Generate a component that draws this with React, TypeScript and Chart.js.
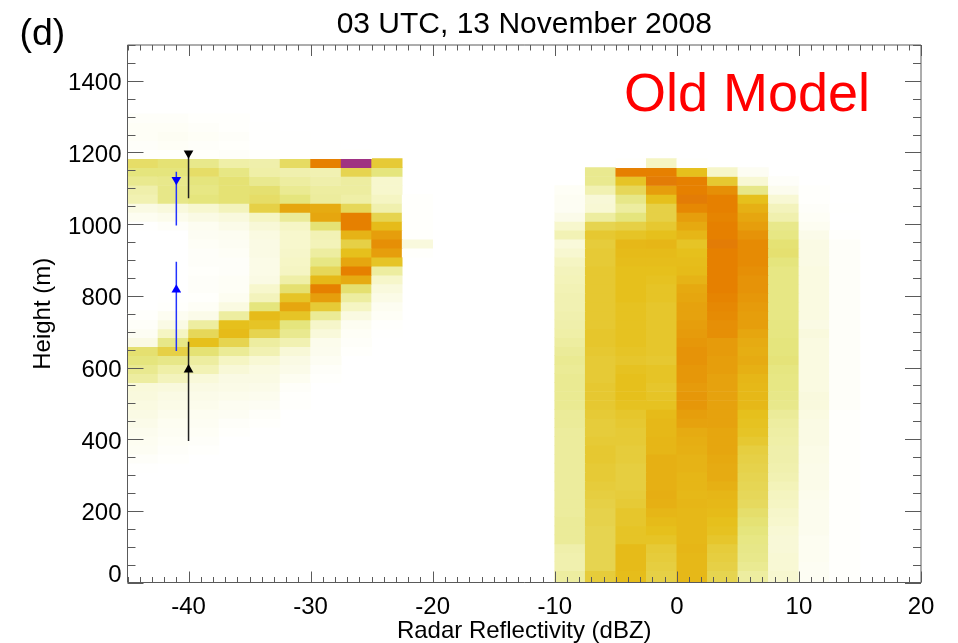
import React, { useEffect, useRef } from "react";
import { Chart, registerables } from "chart.js";

Chart.register(...registerables);

// Occurrence level of each reflectivity/height cell, bottom row first.
const LEFT_X_EDGES = [-45, -42.5, -40, -37.5, -35, -32.5, -30, -27.5, -25, -22.5];
const RIGHT_X_EDGES = [-10, -7.5, -5, -2.5, 0, 2.5, 5, 7.5, 10, 12.5];
const X_BIN = 2.5;
const ROW_BASE = -17;
const ROW_H = 25;

const leftFirstRow = 13;
const leftRows = [
  [.05],
  [.2, .1],
  [.4, .2, .1],
  [.5, .3, .2],
  [.6, .4, .3, .1],
  [.8, .5, .4, .2, .1],
  [1, .7, .5, .4, .2],
  [1.1, .9, .7, .5, .4, .1],
  [1.2, 1, .8, .7, .6, .1],
  [1.3, 1.2, 1, .9, .8, .2],
  [3, 2.2, 1.3, 1, 1, .5, .1],
  [3.5, 2.8, 2.4, 1.4, 1.1, .8, .2],
  [4, 3.7, 3, 2, 1.5, 1, .4],
  [4.3, 5.2, 4.2, 3.3, 2.5, 1.4, .6, .1],
  [1, 3.7, 6, 5, 3, 2.5, .7, .2],
  [.4, 2, 4.8, 6.2, 5, 3.5, 1.3, .3, .05],
  [.2, 1, 3, 6, 5.8, 4, 1.8, .5, .1],
  [.1, .5, .8, 3, 6.2, 5.8, 3.3, 1.1, .3],
  [0, .1, .3, 1.1, 4, 7, 5.5, 2, .5],
  [0, .05, .1, .5, 2.2, 5.8, 7.2, 3, .9],
  [0, 0, .2, .3, 1.7, 4.3, 8, 4.3, 1.2],
  [0, 0, .2, .3, 1, 2.8, 6.3, 6.8, 1.8],
  [0, 0, .15, .2, .9, 2, 4.8, 8, 3],
  [0, 0, .2, .2, .9, 1.9, 3.8, 7, 5.8],
  [0, 0, .2, .3, 1, 1.8, 3, 6, 7.2, .1],
  [0, 0, .3, .4, 1, 1.7, 2.3, 5.2, 7.6, 1.2],
  [0, 0, .4, .5, 1.1, 1.7, 2.4, 6.5, 7.2, .1],
  [.05, .2, .5, .8, 1.4, 1.9, 4.2, 8, 6.2, .1],
  [.5, .7, 1, 1.2, 2, 3.2, 7, 8, 5, .1],
  [1, 1.2, 1.6, 2.2, 5.2, 7, 6.8, 4.8, 2.6, .1],
  [2.5, 3.7, 4, 4.2, 4.5, 4, 3.1, 2.8, 2, .1],
  [2.7, 3.7, 3.8, 4.2, 4.3, 3.4, 3, 3, 1.7],
  [3.5, 3.6, 4, 4.2, 3.5, 3, 2.7, 3, 1.7],
  [4, 4, 4.5, 3.8, 2.8, 2.6, 2.5, 5, 4],
  [4.5, 4.2, 3.6, 2.8, 2.7, 4.6, 8, 10, 5.5],
  [.1, .15, .15, .2, .1, .05, .1, .1],
  [.2, .3, .2, .15, .05, .05, .05],
  [.3, .4, .3, .2, .05, .05],
  [.3, .3, .2, .1, .02],
  [.2, .2, .1, .1],
];

const rightFirstRow = 0;
const rightRows = [
  [3, 5.4, 6.1, 5.2, 6.3, 5, 3, 1.6, .4, .1],
  [3, 5.4, 6.1, 5.2, 6.3, 5, 3, 1.6, .4, .1],
  [2.6, 5, 6.2, 5.3, 6.3, 5.2, 3.4, 1.5, .4, .1],
  [2.6, 5, 6.2, 5.4, 6.3, 5.3, 3.6, 1.5, .5, .1],
  [2.7, 5, 6.2, 5.5, 6.4, 5.4, 3.7, 1.4, .5, .1],
  [3.2, 5, 5.8, 5.8, 6.3, 5.7, 3.8, 1.4, .5, .1],
  [3.2, 5, 5.8, 6, 6.3, 5.9, 4, 1.5, .6, .1],
  [3.2, 5.1, 5.7, 6.2, 6.3, 6, 4.2, 1.7, .6, .1],
  [3.1, 5.1, 5.7, 6.4, 6.3, 6.2, 4.4, 1.8, .6, .1],
  [3.1, 5.2, 5.5, 6.6, 6.4, 6.3, 4.7, 2, .6, .1],
  [3.1, 5.3, 5.4, 6.7, 6.3, 6.4, 4.8, 2.1, .7, .1],
  [3.1, 5.4, 5.3, 6.6, 6.4, 6.6, 4.9, 2.3, .8, .1],
  [3.1, 5.5, 5.3, 6.6, 6.4, 6.8, 5, 2.5, .8, .1],
  [3.1, 5.5, 5.3, 6.6, 6.5, 6.8, 5.1, 2.6, .8, .1],
  [3.1, 5.6, 5.4, 6.6, 6.5, 6.9, 5.2, 2.7, .9, .1],
  [3.1, 5.6, 5.4, 6.4, 6.6, 7, 5.3, 2.7, .9, .1],
  [3.1, 5.5, 5.5, 6.4, 6.7, 7, 5.6, 2.8, 1, .1],
  [3.1, 5.4, 5.5, 6.3, 6.8, 7, 5.8, 2.9, 1, .1],
  [3.2, 5.4, 5.6, 6.3, 7.1, 7.1, 5.9, 3, 1, .1],
  [3.2, 5.5, 5.7, 6.2, 7.2, 7.1, 6, 3.2, 1.1, .1],
  [3.4, 5.6, 5.9, 5.9, 7.4, 7.1, 6.3, 3.6, 1.2, .2],
  [3.4, 5.6, 6, 5.8, 7.4, 7.1, 6.3, 3.7, 1.2, .2],
  [3.4, 5.6, 6, 5.7, 7.3, 7.1, 6.3, 3.8, 1.1, .2],
  [3.4, 5.5, 6, 5.8, 7.4, 7.1, 6.4, 3.8, 1.1, .2],
  [3.3, 5.5, 5.9, 5.8, 7.4, 7.2, 6.6, 3.9, 1.1, .2],
  [3.4, 5.5, 5.7, 5.6, 7.5, 7.2, 6.8, 4.1, 1.1, .2],
  [3.2, 5.6, 5.8, 5.7, 7.5, 7.3, 6.7, 4, 1.1, .2],
  [3, 5.7, 5.9, 5.7, 7.4, 7.3, 6.8, 4, 1.1, .2],
  [2.8, 5.7, 5.9, 5.7, 7.3, 7.6, 7, 3.9, 1.2, .2],
  [2.7, 5.6, 5.9, 5.7, 7.2, 7.6, 7.2, 3.9, 1, .2],
  [2.6, 5.6, 5.9, 5.7, 7.1, 7.7, 7.2, 3.8, 1.1, .2],
  [2.5, 5.6, 5.9, 5.7, 7.1, 7.8, 7.3, 3.8, 1.1, .2],
  [2.5, 5.6, 6, 5.8, 7, 7.9, 7.4, 3.8, 1.1, .2],
  [2.4, 5.6, 6, 5.8, 6.9, 8, 7.5, 3.8, 1.1, .2],
  [2.3, 5.6, 6, 5.9, 6.5, 8, 7.5, 3.8, 1.1, .2],
  [2.2, 5.6, 6, 6, 6.2, 8, 7.6, 3.8, 1.1, .2],
  [2, 5.5, 6.1, 6.1, 6.1, 8, 7.7, 4, 1, .2],
  [1.6, 5.5, 6.2, 6.2, 6, 8, 7.7, 4.3, 1, .2],
  [1.3, 5.4, 6.3, 6.4, 5.8, 8.1, 7.7, 4.2, 1, .2],
  [2.4, 5.6, 5.8, 6, 6.4, 8, 7.5, 3.8, .8, .1],
  [1.7, 5, 5.2, 5.6, 6.9, 8, 7.2, 3.6, .5],
  [.8, 3, 4, 5.2, 7.2, 7.9, 7, 2.6, .3],
  [.4, 1.5, 3, 5.2, 7.8, 8, 6.6, 2.2, .2, .05],
  [.4, 1.4, 3.7, 6, 8.1, 8, 6, 1.5, .1],
  [.3, 2.5, 4.8, 7.2, 8, 7.6, 3.7, .6, .1],
  [0, 3.5, 5.8, 8.1, 8, 5.6, 1.5, .2],
  [0, 3.5, 8, 8, 6, 1.8, .4],
  [0, 0, .1, 2, .1],
];

// Level → colour of the image's palette
const PALETTE_LEVELS = [0, 0.3, 1, 2, 3, 4, 5, 6, 7, 8, 9, 10];
const PALETTE_COLORS = [
  [255, 255, 255], [254, 254, 246], [250, 250, 228], [245, 245, 195],
  [237, 237, 160], [229, 229, 125], [230, 212, 80], [230, 192, 28],
  [230, 166, 15], [230, 128, 0], [200, 90, 60], [160, 50, 130],
];

function levelColor(v: number) {
  let i = 0;
  while (i < PALETTE_LEVELS.length - 2 && v > PALETTE_LEVELS[i + 1]) i++;
  const t = (v - PALETTE_LEVELS[i]) / (PALETTE_LEVELS[i + 1] - PALETTE_LEVELS[i]);
  const a = PALETTE_COLORS[i];
  const b = PALETTE_COLORS[i + 1];
  const c = a.map((q, k) => Math.round(q + (b[k] - q) * t));
  return `rgb(${c[0]},${c[1]},${c[2]})`;
}

function cells(rows: number[][], firstRow: number, edges: number[]) {
  const out: { x: number; y: number[]; v: number }[] = [];
  rows.forEach((row, r) => {
    row.forEach((v, c) => {
      if (v <= 0) return;
      const lo = ROW_BASE + ROW_H * (firstRow + r);
      out.push({ x: edges[c] + X_BIN / 2, y: [lo, lo + ROW_H], v });
    });
  });
  return out;
}

const heatCells = [...cells(leftRows, leftFirstRow, LEFT_X_EDGES), ...cells(rightRows, rightFirstRow, RIGHT_X_EDGES)];

// Error-bar style markers
const blackUpperLine = [{ x: -40, y: 1198 }, { x: -40, y: 1072 }];
const blackLowerLine = [{ x: -40, y: 672 }, { x: -40, y: 395 }];
const blueUpperLine = [{ x: -41, y: 1146 }, { x: -41, y: 996 }];
const blueLowerLine = [{ x: -41, y: 895 }, { x: -41, y: 646 }];
const blackDownPoint = [{ x: -40, y: 1198 }];
const blackUpPoint = [{ x: -40, y: 594 }];
const blueDownPoint = [{ x: -41, y: 1124 }];
const blueUpPoint = [{ x: -41, y: 817 }];

const X_MIN = -45;
const X_MAX = 20;
const Y_MIN = 0;
const Y_MAX = 1500;
const xTickValues = [-40, -30, -20, -10, 0, 10, 20];
const yTickValues = [0, 200, 400, 600, 800, 1000, 1200, 1400];
const X_MINOR_STEP = 1;
const Y_MINOR_STEP = 50;
const SANS = "'Liberation Sans'";

const frame = {
  id: "frame",
  afterDraw(chart: any) {
    const { ctx, chartArea: a, scales } = chart;
    const { x, y } = scales;
    ctx.save();
    ctx.strokeStyle = "#5a5a5a";
    ctx.lineWidth = 1;
    ctx.beginPath();
    ctx.rect(a.left, a.top, a.right - a.left, a.bottom - a.top);
    for (let v = X_MIN; v <= X_MAX; v += X_MINOR_STEP) {
      const len = v % 10 === 0 ? 11 : 5.5;
      const px = Math.round(x.getPixelForValue(v)) + 0.5;
      ctx.moveTo(px, a.bottom);
      ctx.lineTo(px, a.bottom - len);
      ctx.moveTo(px, a.top);
      ctx.lineTo(px, a.top + len);
    }
    for (let v = Y_MIN; v <= Y_MAX; v += Y_MINOR_STEP) {
      const len = v % 200 === 0 ? 16 : 8;
      const py = Math.round(y.getPixelForValue(v)) + 0.5;
      ctx.moveTo(a.left, py);
      ctx.lineTo(a.left + len, py);
      ctx.moveTo(a.right, py);
      ctx.lineTo(a.right - len, py);
    }
    ctx.stroke();

    ctx.fillStyle = "#000";
    ctx.font = `24px ${SANS}`;
    ctx.textAlign = "right";
    ctx.textBaseline = "middle";
    ctx.fillText("0", a.left - 6, y.getPixelForValue(0) - 7);

    ctx.textAlign = "left";
    ctx.textBaseline = "alphabetic";
    ctx.font = `37.5px ${SANS}`;
    ctx.fillText("(d)", 19.5, 45);
    ctx.fillStyle = "#ff0000";
    ctx.font = `54px ${SANS}`;
    ctx.fillText("Old Model", 624, 111);
    ctx.restore();
  },
};

export default function App() {
  const ref = useRef<HTMLCanvasElement>(null);
  useEffect(() => {
    document.body.style.margin = "0";
    const lineDs = (data: any, color: string) => ({
      type: "line" as const,
      data,
      borderColor: color,
      borderWidth: 1.5,
      pointRadius: 0,
      order: 2,
    });
    const markDs = (data: any, color: string, rotation: number) => ({
      type: "scatter" as const,
      data,
      backgroundColor: color,
      borderColor: color,
      borderWidth: 0,
      pointStyle: "triangle",
      pointRadius: 5.6,
      rotation,
      order: 1,
    });
    const chart = new Chart(ref.current!, {
      type: "bar",
      data: {
        datasets: [
          markDs(blackDownPoint, "#000", 180),
          markDs(blackUpPoint, "#000", 0),
          markDs(blueDownPoint, "#0000ff", 180),
          markDs(blueUpPoint, "#0000ff", 0),
          lineDs(blackUpperLine, "#222"),
          lineDs(blackLowerLine, "#222"),
          lineDs(blueUpperLine, "#2233ff"),
          lineDs(blueLowerLine, "#2233ff"),
          {
            type: "bar" as const,
            data: heatCells as any,
            order: 10,
            borderWidth: 0,
            barPercentage: 1,
            categoryPercentage: 1,
            backgroundColor: (c: any) => levelColor(c.raw?.v ?? 0),
          },
        ],
      } as any,
      plugins: [frame],
      options: {
        responsive: false,
        animation: false,
        layout: { padding: { right: 37, top: 0, left: 0, bottom: 0 } },
        plugins: {
          legend: { display: false },
          tooltip: { enabled: false },
          title: {
            display: true,
            fullSize: false,
            text: "03 UTC, 13 November 2008",
            color: "#000",
            font: { family: SANS, size: 30, weight: "normal", lineHeight: 1.2 },
            padding: { top: 6.5, bottom: 2.5 },
          },
        },
        scales: {
          x: {
            type: "linear",
            min: X_MIN,
            max: X_MAX,
            offset: false,
            grid: { display: false, drawTicks: false },
            border: { display: false },
            afterBuildTicks: (s: any) => {
              s.ticks = xTickValues.map((value) => ({ value }));
            },
            afterFit: (s: any) => {
              s.height = 60.5;
            },
            ticks: {
              autoSkip: false,
              maxRotation: 0,
              color: "#000",
              padding: 10,
              font: { family: SANS, size: 24 },
            },
            title: {
              display: true,
              text: "Radar Reflectivity (dBZ)",
              color: "#000",
              font: { family: SANS, size: 24, lineHeight: 1 },
              padding: { top: 0, bottom: 0 },
            },
          },
          y: {
            type: "linear",
            min: Y_MIN,
            max: Y_MAX,
            grid: { display: false, drawTicks: false },
            border: { display: false },
            afterBuildTicks: (s: any) => {
              s.ticks = yTickValues.map((value) => ({ value }));
            },
            afterFit: (s: any) => {
              s.width = 127.5;
              // The reference's tick labels sit a little lower than the canvas's middle baseline.
              const compute = s._computeLabelItems.bind(s);
              s._computeLabelItems = (area: any) => {
                const items = compute(area);
                items.forEach((it: any) => {
                  it.options.translation[1] += 1.5;
                });
                return items;
              };
            },
            ticks: {
              autoSkip: false,
              color: "#000",
              padding: 6,
              font: { family: SANS, size: 24 },
              callback: (v: any) => (v === 0 ? "" : String(v)),
            },
            title: {
              display: true,
              text: "Height (m)",
              color: "#000",
              font: { family: SANS, size: 24, lineHeight: 1.2 },
              padding: { top: 28.6, bottom: 0 },
            },
          },
        },
      },
    } as any);
    return () => chart.destroy();
  }, []);
  return (
    <div style={{ width: 958, height: 643, background: "#fff" }}>
      <canvas ref={ref} width={958} height={643} style={{ display: "block" }} />
    </div>
  );
}
